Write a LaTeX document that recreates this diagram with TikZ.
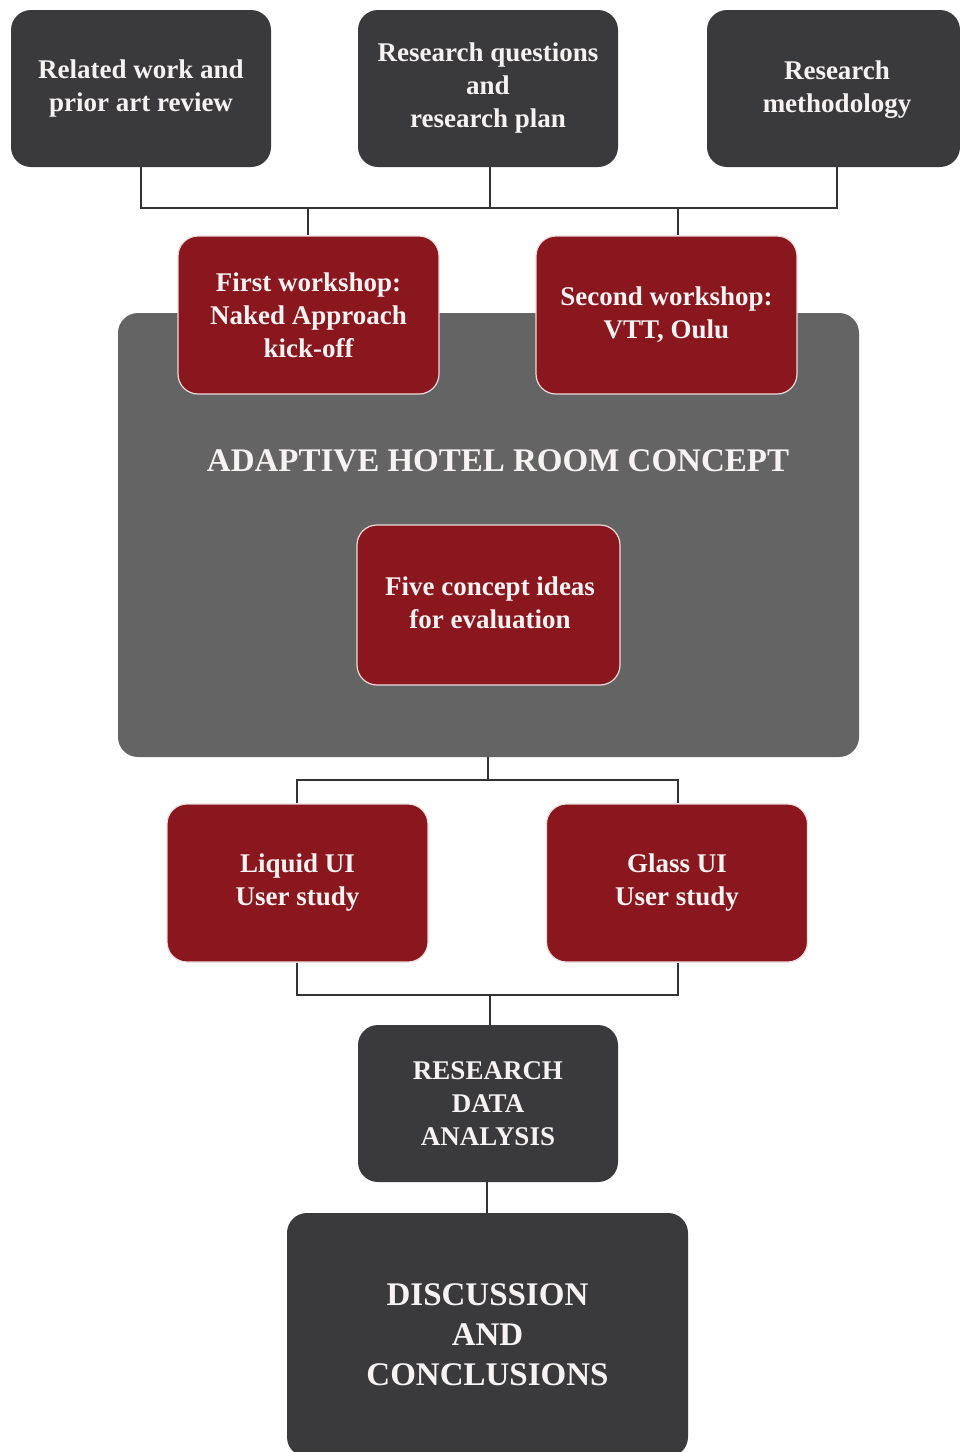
\documentclass[tikz,border=0pt]{standalone}
\usepackage{fontspec}
\setmainfont{Liberation Serif}
\usetikzlibrary{calc}
\definecolor{boxdark}{HTML}{3A3A3C}
\definecolor{boxred}{HTML}{8A161E}
\definecolor{panelgray}{HTML}{646464}
\definecolor{linkgray}{HTML}{333333}
\definecolor{textwhite}{HTML}{F7F3F3}
\begin{document}
\begin{tikzpicture}[x=1pt,y=-1pt,
  card/.style={rounded corners=20pt, align=center, text=textwhite,
    font=\bfseries\fontsize{27}{33}\selectfont, inner sep=0pt},
  darkcard/.style={card, fill=boxdark},
  redcard/.style={card, fill=boxred, draw=white!85!boxred, line width=1.2pt},
  link/.style={draw=linkgray, line width=1.8pt}]
\useasboundingbox (0,0) rectangle (960,1452);

% central concept panel
\fill[panelgray, rounded corners=20pt] (118,313) rectangle (859,757);
\node[font=\bfseries\fontsize{33}{40}\selectfont, text=textwhite] (title) at (498,461) {ADAPTIVE HOTEL ROOM CONCEPT};

% top row
\node[darkcard, minimum width=260pt, minimum height=157pt] (rw) at (141,88.5) {Related work and\\prior art review};
\node[darkcard, minimum width=260pt, minimum height=157pt] (rq) at (488,88.5) {Research questions\\and\\research plan};
\node[darkcard, minimum width=253pt, minimum height=157pt] (rm) at (833.5,88.5) {};
\node[card] (rmtext) at (837,90) {Research\\methodology};

% workshops
\node[redcard, minimum width=261pt, minimum height=158pt] (w1) at (308.5,315) {First workshop:\\Naked Approach\\kick-off};
\node[redcard, minimum width=261pt, minimum height=158pt] (w2) at (666.5,315) {Second workshop:\\VTT, Oulu};

% concept ideas
\node[redcard, minimum width=263pt, minimum height=160pt] (ideas) at (488.5,605) {};
\node[card] (ideastext) at (490,603) {Five concept ideas\\for evaluation};

% user studies
\node[redcard, minimum width=261pt, minimum height=158pt] (liq) at (297.5,883) {Liquid UI\\User study};
\node[redcard, minimum width=261pt, minimum height=158pt] (gla) at (677,883) {Glass UI\\User study};

% analysis and conclusions
\node[darkcard, minimum width=260pt, minimum height=157pt] (rda) at (488,1103.5) {RESEARCH\\DATA\\ANALYSIS};
\node[darkcard, minimum width=401pt, minimum height=244pt,
  font=\bfseries\fontsize{33}{40}\selectfont] (dc) at (487.5,1335) {DISCUSSION\\AND\\CONCLUSIONS};

% top connectors
\coordinate (rmfoot) at (837,167);
\coordinate (barL) at (141,208);
\coordinate (barR) at (837,208);
\draw[link] (rw.south) -- (barL) -- (barR) -- (rmfoot);
\draw[link] (rq.south -| 490,0) -- (490,208);
\draw[link] (308,208) -- (w1.north -| 308,0);
\draw[link] (678,208) -- (w2.north -| 678,0);

% panel to user studies
\coordinate (panelfoot) at (488,757);
\draw[link] (panelfoot) -- (488,780);
\draw[link] (liq.north -| 297,0) -- (297,780) -- (678,780) -- (gla.north -| 678,0);

% user studies to analysis
\draw[link] (liq.south -| 297,0) -- (297,995) -- (678,995) -- (gla.south -| 678,0);
\draw[link] (490,995) -- (rda.north -| 490,0);

% analysis to conclusions
\draw[link] (rda.south -| 487,0) -- (dc.north -| 487,0);
\end{tikzpicture}
\end{document}
